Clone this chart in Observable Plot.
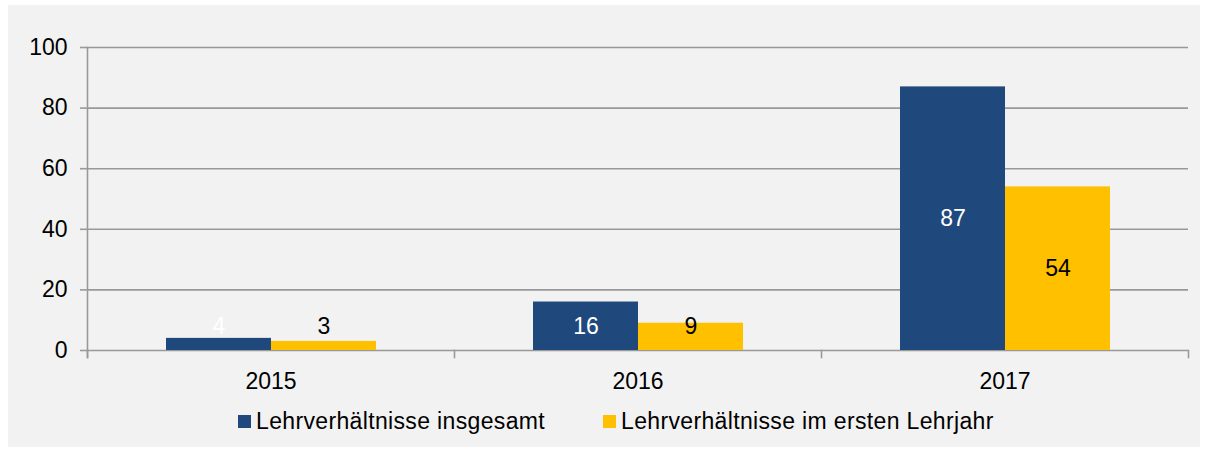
<!DOCTYPE html>
<html>
<head>
<meta charset="utf-8">
<script src="https://cdn.jsdelivr.net/npm/d3@7"></script>
<script src="https://cdn.jsdelivr.net/npm/@observablehq/plot@0.6"></script>
<style>
  html, body { margin: 0; padding: 0; background: #ffffff; }
  #panel {
    position: absolute; left: 8px; top: 5px; width: 1192px; height: 442px;
    background: #f2f2f2; font-family: "Liberation Sans", Arial, sans-serif;
  }
  #chart svg { display: block; }
  .legend-item {
    position: absolute; top: 398px; height: 36px; display: flex; align-items: center;
    font-size: 23px; letter-spacing: 0.35px; color: #000; white-space: nowrap;
  }
  .swatch { width: 13px; height: 13px; margin-right: 5px; }
</style>
</head>
<body>
<div id="panel">
  <div id="chart"></div>
  <div id="legend"></div>
</div>
<script>
const years = ["2015", "2016", "2017"];
const seriesNames = ["Lehrverhältnisse insgesamt", "Lehrverhältnisse im ersten Lehrjahr"];
const insgesamt = [4, 16, 87];
const ersteLehrjahr = [3, 9, 54];
const yTicks = [0, 20, 40, 60, 80, 100];
const colors = ["#1f497d", "#ffc000"];

const data = years.flatMap((year, i) => [
  {year, series: seriesNames[0], value: insgesamt[i]},
  {year, series: seriesNames[1], value: ersteLehrjahr[i]}
]);

const axisGray = "#999999";
const font = 23;

const chart = Plot.plot({
  width: 1192,
  height: 392,
  marginLeft: 79,
  marginRight: 12,
  marginTop: 42,
  marginBottom: 40,
  style: {background: "transparent", fontFamily: "'Liberation Sans', Arial, sans-serif", overflow: "visible"},
  fx: {domain: years, paddingInner: 0, paddingOuter: 0, label: null},
  x: {domain: seriesNames, paddingInner: 0, paddingOuter: 0.745, axis: null},
  y: {domain: [0, 100], insetBottom: 7, label: null},
  color: {domain: seriesNames, range: colors},
  marks: [
    Plot.gridY(yTicks, {stroke: axisGray, strokeOpacity: 1, strokeWidth: 1.6}),
    Plot.axisY(yTicks, {tickSize: 7, tickPadding: 13, fontSize: font, stroke: axisGray, strokeWidth: 1.6, fill: "#000", strokeOpacity: 1, label: null}),
    Plot.axisFx({anchor: "bottom", tickSize: 0, tickPadding: 15, fontSize: font, fill: "#000", label: null}),
    Plot.frame({anchor: "left", facetAnchor: "left", stroke: axisGray, strokeWidth: 1.6}),
    Plot.frame({anchor: "left", insetTop: 303, stroke: axisGray, strokeWidth: 1.6}),
    Plot.frame({anchor: "right", facetAnchor: "right", insetTop: 303, stroke: axisGray, strokeWidth: 1.6}),
    Plot.barY(data, {fx: "year", x: "series", y: "value", fill: "series"}),
    Plot.text(data, {
      filter: d => d.series === seriesNames[0],
      fx: "year", x: "series", y: d => Math.max(d.value / 2, 8),
      text: d => String(d.value), fill: "white", fontSize: font
    }),
    Plot.text(data, {
      filter: d => d.series === seriesNames[1],
      fx: "year", x: "series", y: d => Math.max(d.value / 2, 8),
      text: d => String(d.value), fill: "black", fontSize: font
    })
  ]
});
document.getElementById("chart").appendChild(chart);

const legend = document.getElementById("legend");
const legendLeft = [230, 595];
seriesNames.forEach((name, i) => {
  const item = document.createElement("div");
  item.className = "legend-item";
  item.style.left = legendLeft[i] + "px";
  const sw = document.createElement("span");
  sw.className = "swatch";
  sw.style.background = colors[i];
  const label = document.createElement("span");
  label.textContent = name;
  item.appendChild(sw);
  item.appendChild(label);
  legend.appendChild(item);
});
</script>
</body>
</html>
